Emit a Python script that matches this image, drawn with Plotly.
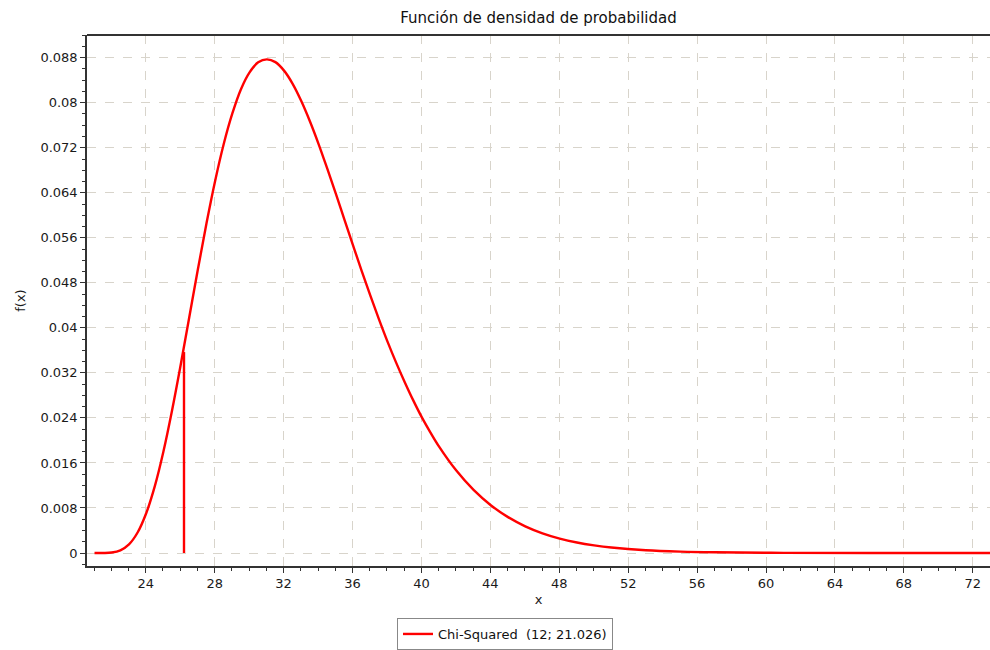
import plotly.graph_objects as go

# Chi-Squared (12; 21.026) density
x_vals = [21.026, 21.526, 22.026, 22.526, 23.026, 23.526, 24.026, 24.526, 25.026, 25.526,
          26.026, 26.526, 27.026, 27.526, 28.026, 28.526, 29.026, 29.526, 30.026, 30.526,
          31.026, 31.526, 32.026, 32.526, 33.026, 33.526, 34.026, 34.526, 35.026, 35.526,
          36.026, 36.526, 37.026, 37.526, 38.026, 38.526, 39.026, 39.526, 40.026, 40.526,
          41.026, 42.026, 43.026, 44.026, 45.026, 46.026, 47.026, 48.026, 49.026, 50.026,
          51.026, 53.026, 55.026, 57.026, 61.026, 66.026, 73.0]
f_vals = [0.0, 0.0000032, 0.000079, 0.000467, 0.00153, 0.00364, 0.00706, 0.01188, 0.01804, 0.02533,
          0.0334, 0.04189, 0.0504, 0.05858, 0.0661, 0.07267, 0.0781, 0.08241, 0.0854, 0.08717,
          0.0877, 0.08721, 0.0857, 0.08336, 0.0803, 0.07671, 0.0727, 0.06836, 0.0639, 0.05927,
          0.0547, 0.05018, 0.0458, 0.0416, 0.0376, 0.03387, 0.0304, 0.02712, 0.0241, 0.0214,
          0.0189, 0.01464, 0.01121, 0.00849, 0.00637, 0.00474, 0.0035, 0.00256, 0.00186, 0.00135,
          0.00097, 0.00049, 0.000245, 0.00012, 0.000027, 0.000002, 0.0]

# Marker line (quantile)
quantile_x = [26.22, 26.22]
quantile_y = [0.0, 0.0357]

series_name = "Chi-Squared\u00a0\u00a0(12;\u00a021.026)"
title_text = "Función de densidad de probabilidad"

font_family = "DejaVu Sans, sans-serif"
grid_color = "#d8d4cb"
red = "#ff0000"

fig = go.Figure()
fig.add_trace(go.Scatter(x=x_vals, y=f_vals, mode="lines", name=series_name,
                         line=dict(color=red, width=2.4), line_shape="spline"))
fig.add_trace(go.Scatter(x=quantile_x, y=quantile_y, mode="lines", showlegend=False,
                         line=dict(color=red, width=2.4)))

L, R, T, B = 87, 0, 35, 84
W, H = 990, 650
plot_w = W - L - R
plot_h = H - T - B

fig.update_layout(
    width=W, height=H,
    margin=dict(l=L, r=R, t=T, b=B, autoexpand=False),
    paper_bgcolor="white", plot_bgcolor="white",
    font=dict(family=font_family, size=13, color="#1a1a1a"),
    title=dict(text=title_text, x=(L + W - R) / 2 / W, xanchor="center",
               y=1 - 18 / H, yanchor="middle", font=dict(size=15, color="#111")),
    showlegend=True,
    legend=dict(orientation="h", x=(505 - L) / plot_w, xanchor="center",
                y=-(634 - (H - B)) / plot_h, yanchor="middle",
                bordercolor="#888", borderwidth=1, font=dict(size=13, color="#111"),
                itemwidth=30, tracegroupgap=0),
    xaxis=dict(range=[20.59, 73.0], tick0=24, dtick=4, showgrid=True, automargin=False,
               gridcolor=grid_color, griddash="dash", gridwidth=1,
               showline=True, linecolor="#333", linewidth=1.5,
               ticks="outside", ticklen=5, tickcolor="#333", zeroline=False,
               minor=dict(dtick=1, tick0=24, ticks="outside", ticklen=3, tickcolor="#333", showgrid=False),
               title=dict(text="x", standoff=5, font=dict(size=13)),
               tickfont=dict(size=13)),
    yaxis=dict(range=[-0.00231, 0.09203], tick0=0, dtick=0.008, showgrid=True, automargin=False,
               gridcolor=grid_color, griddash="dash", gridwidth=1,
               showline=True, linecolor="#333", linewidth=1.5,
               ticks="outside", ticklen=5, tickcolor="#333", zeroline=False,
               minor=dict(dtick=0.002, tick0=0, ticks="outside", ticklen=3, tickcolor="#333", showgrid=False),
               tickformat="~g",
               title=dict(text="f(x)", standoff=12, font=dict(size=13)),
               tickfont=dict(size=13)),
    shapes=[dict(type="line", xref="paper", yref="paper", x0=0, x1=1, y0=1, y1=1,
                 line=dict(color="#333", width=2))],
)

fig.write_html("out.html", config={"displayModeBar": False},
               post_script="document.body.style.margin='0';document.body.style.overflow='hidden';")
